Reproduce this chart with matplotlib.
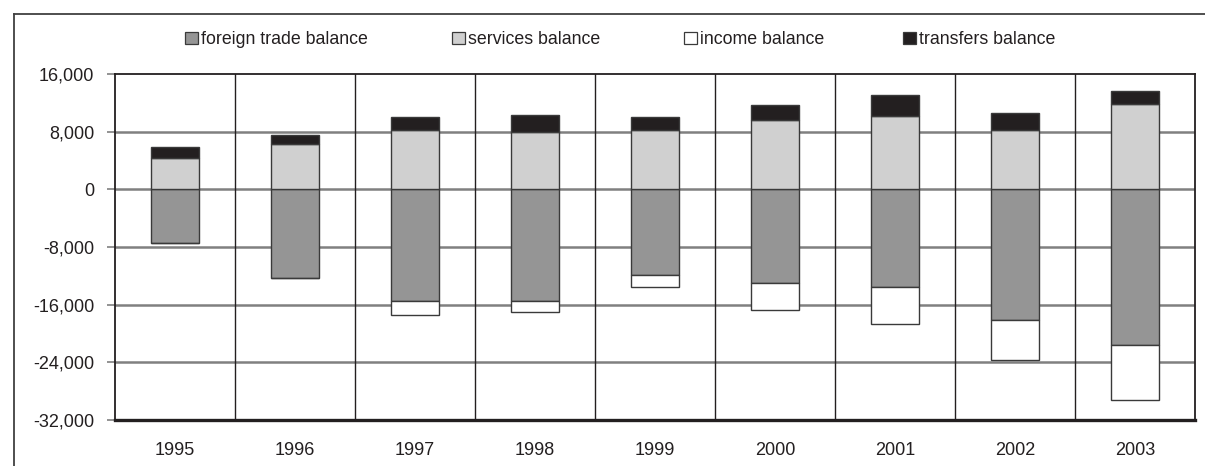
import matplotlib
matplotlib.use("Agg")
import matplotlib.pyplot as plt
from matplotlib.patches import Rectangle
from matplotlib.lines import Line2D
import numpy as np

plt.rcParams['font.family'] = ['Liberation Sans', 'DejaVu Sans']

years = ["1995", "1996", "1997", "1998", "1999", "2000", "2001", "2002", "2003"]
trade = [-7500, -12300, -15500, -15500, -11900, -13000, -13600, -18100, -21600]
income = [0, 0, -2000, -1460, -1700, -3690, -5030, -5510, -7570]
services = [4300, 6340, 8240, 7960, 8240, 9670, 10180, 8240, 11840]
transfers = [1620, 1250, 1840, 2400, 1840, 2080, 2950, 2400, 1850]

series_labels = ["foreign trade balance", "services balance", "income balance", "transfers balance"]
series_colors = ["#959595", "#d0d0d0", "#ffffff", "#231f20"]
edge = "#3a3a3a"
text_color = "#231f20"

W, H = 1205, 466
fig = plt.figure(figsize=(W / 100, H / 100), dpi=100)
ax = fig.add_axes([115 / W, 1 - 420 / H, (1195 - 115) / W, (420 - 74) / H])

x = np.arange(len(years))
w = 0.405
trade = np.array(trade)
income = np.array(income)
services = np.array(services)
transfers = np.array(transfers)

ax.bar(x, trade, w, color=series_colors[0], edgecolor=edge, linewidth=1.0, zorder=3)
ax.bar(x, income, w, bottom=trade, color=series_colors[2], edgecolor=edge, linewidth=1.0, zorder=3)
ax.bar(x, services, w, color=series_colors[1], edgecolor=edge, linewidth=1.0, zorder=3)
ax.bar(x, transfers, w, bottom=services, color=series_colors[3], edgecolor=edge, linewidth=1.0, zorder=3)

ax.set_xlim(-0.5, len(years) - 0.5)
ax.set_ylim(-32000, 16000)
yticks = np.arange(-32000, 16001, 8000)
ax.set_yticks(yticks)
ax.set_yticklabels([f"{v:,}" for v in yticks], fontsize=13, color=text_color)
ax.set_xticks(x)
ax.set_xticklabels(years, fontsize=13, color=text_color)
ax.tick_params(axis="x", length=0, pad=16)
ax.tick_params(axis="y", length=6, width=1.2, color="#808080", pad=9)

# horizontal gridlines
for v in yticks[1:-1]:
    ax.axhline(v, color="#808080", linewidth=1.8, zorder=1)
# category separators
for b in np.arange(0.5, len(years) - 0.5, 1.0):
    ax.axvline(b, color=text_color, linewidth=1.0, zorder=1)

for s in ["top", "right", "left"]:
    ax.spines[s].set_color(text_color)
    ax.spines[s].set_linewidth(1.3)
ax.spines["bottom"].set_color(text_color)
ax.spines["bottom"].set_linewidth(2.4)

# legend row above the plot
legend_x = [185, 452, 684, 903]
sq = 12.5
ly = 38
for lx, lab, col in zip(legend_x, series_labels, series_colors):
    fig.add_artist(Rectangle((lx / W, 1 - (ly + sq / 2) / H), sq / W, sq / H,
                             facecolor=col, edgecolor=edge, linewidth=0.9,
                             transform=fig.transFigure))
    fig.text((lx + sq + 3.5) / W, 1 - ly / H, lab, fontsize=12.8, color=text_color,
             ha="left", va="center_baseline")

# outer frame lines
fig.add_artist(Line2D([14 / W, 1.0], [1 - 14 / H, 1 - 14 / H], color="#404040", linewidth=1.3,
                      transform=fig.transFigure))
fig.add_artist(Line2D([14 / W, 14 / W], [0, 1 - 14 / H], color="#404040", linewidth=1.3,
                      transform=fig.transFigure))

fig.savefig("out.png", dpi=100)
